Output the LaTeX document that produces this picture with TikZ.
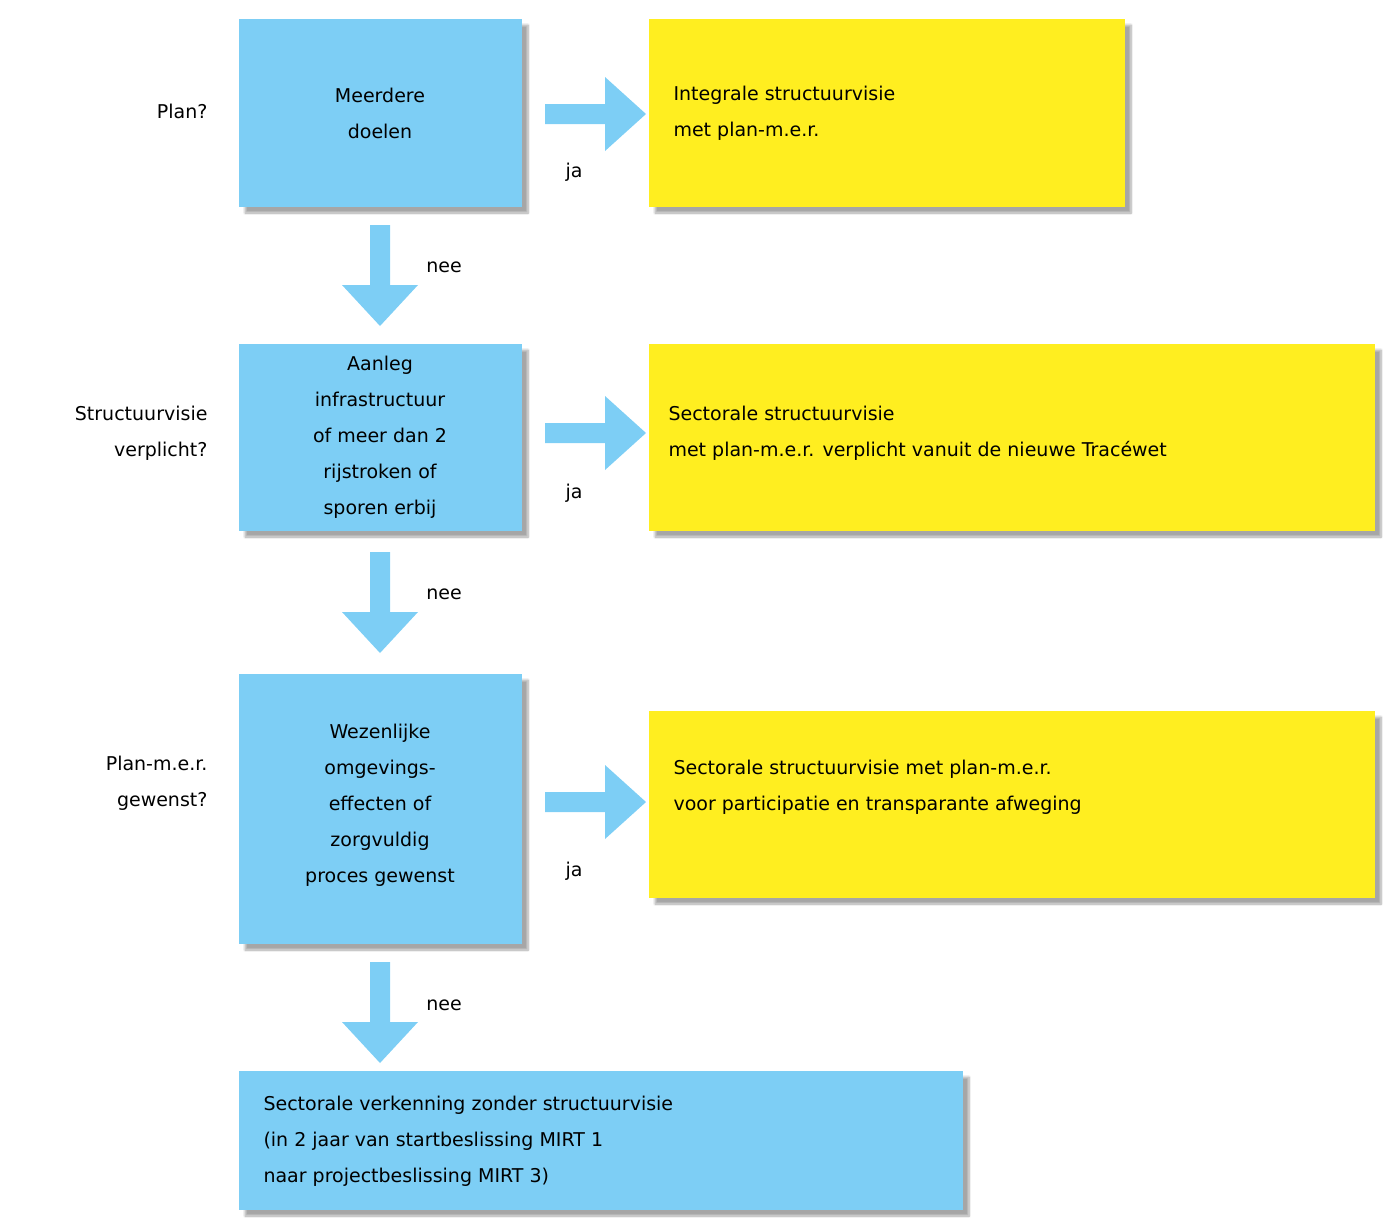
\documentclass[tikz,border=0pt]{standalone}
\usepackage{fontspec}
\setmainfont{DejaVu Sans}
\usetikzlibrary{shadows.blur}
\definecolor{bl}{RGB}{125,206,245}
\definecolor{ye}{RGB}{255,238,32}
\begin{document}
\begin{tikzpicture}[x=1pt,y=-1pt,
  box/.style={blur shadow={shadow xshift=6pt,shadow yshift=-6pt,shadow blur steps=8,shadow opacity=35}},
  txt/.style={font=\fontsize{19}{36}\selectfont,align=center},
  ltxt/.style={font=\fontsize{19}{36}\selectfont,align=left,anchor=west},
  rtxt/.style={font=\fontsize{19}{36}\selectfont,align=right,anchor=east},
]
\useasboundingbox (0,0) rectangle (1396,1229);
\newcommand\mybx[6]{\fill[#6,box] (#2,#3) rectangle (#4,#5); \coordinate (#1) at ({(#2+#4)/2},{(#3+#5)/2});}
\mybx{b1}{239}{19}{522}{207}{bl}
\mybx{y1}{649}{19}{1125}{207}{ye}
\mybx{b2}{239}{344}{522}{531}{bl}
\mybx{y2}{649}{344}{1375}{531}{ye}
\mybx{b3}{239}{674}{522}{944}{bl}
\mybx{y3}{649}{711}{1375}{898}{ye}
\mybx{b4}{239}{1071}{963}{1210}{bl}
% right arrows
\foreach \c in {114,433,802}{
  \fill[bl] (545,\c-10) -- (605,\c-10) -- (605,\c-37) -- (646,\c) -- (605,\c+37) -- (605,\c+10) -- (545,\c+10) -- cycle;}
% down arrows
\foreach \t in {225,552,962}{
  \fill[bl] (370,\t) -- (390,\t) -- (390,\t+60) -- (418,\t+60) -- (380,\t+101) -- (342,\t+60) -- (370,\t+60) -- cycle;}
\node[txt] (t1) at (380,113) {Meerdere\\doelen};
\node[txt] (t2) at (380,437) {Aanleg\\infrastructuur\\of meer dan 2\\rijstroken of\\sporen erbij};
\node[txt] (t3) at (380,805) {Wezenlijke\\omgevings-\\effecten of\\zorgvuldig\\proces gewenst};
\node[ltxt] (u1) at (670,113) {Integrale structuurvisie\\met plan-m.e.r.};
\node[ltxt] (u2) at (665,433) {Sectorale structuurvisie\\met plan-m.e.r. verplicht vanuit de nieuwe Tracéwet};
\node[ltxt] (u3) at (670,787) {Sectorale structuurvisie met plan-m.e.r.\\voor participatie en transparante afweging};
\node[ltxt] (u4) at (260,1141) {Sectorale verkenning zonder structuurvisie\\(in 2 jaar van startbeslissing MIRT 1\\naar projectbeslissing MIRT 3)};
\node[rtxt] (l1) at (211,111) {Plan?};
\node[rtxt] (l2) at (211,433) {Structuurvisie\\verplicht?};
\node[rtxt] (l3) at (211,783) {Plan-m.e.r.\\gewenst?};
\foreach \y/\n in {172/j1,493/j2,871/j3}{\node[txt] (\n) at (574,\y) {ja};}
\foreach \y/\n in {267/n1,594/n2,1005/n3}{\node[txt] (\n) at (444,\y) {nee};}
\end{tikzpicture}
\end{document}
